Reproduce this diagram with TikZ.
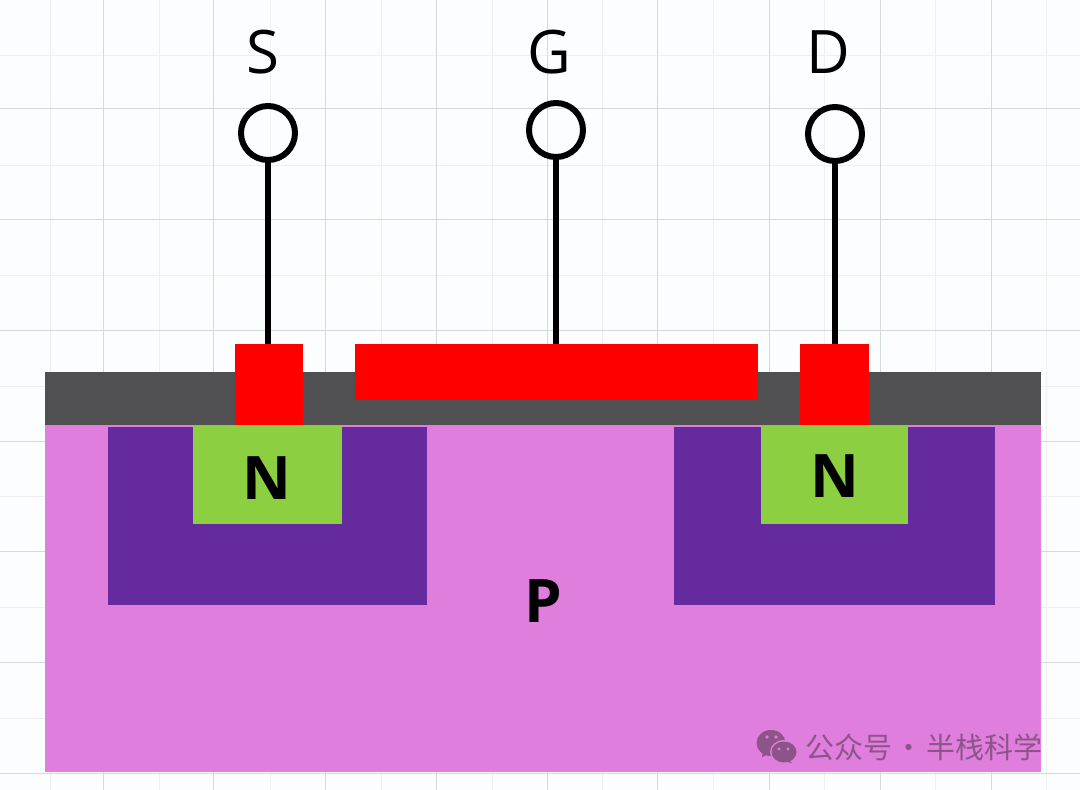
\documentclass[tikz,border=0pt]{standalone}
\usepackage{fontspec}
\setmainfont{Open Sans}
\newfontfamily\cjk{Noto Sans CJK SC}
\usetikzlibrary{positioning, calc}
\usepackage{xcolor}
\definecolor{mosbg}{HTML}{FBFDFE}
\definecolor{mosgrid}{HTML}{D3DADE}
\definecolor{mosgridlight}{HTML}{EDF1F4}
\definecolor{mossub}{HTML}{E07EDD}
\definecolor{mosoxide}{HTML}{505052}
\definecolor{moswell}{HTML}{652A9E}
\definecolor{mosn}{HTML}{8CCF41}
\definecolor{mosmetal}{HTML}{FE0000}
\definecolor{moswater}{HTML}{8C5489}
\tikzset{
  layer/.style={rectangle, inner sep=0pt, outer sep=0pt, draw=none},
  terminal/.style={circle, draw=black, line width=6pt, fill=none, inner sep=0pt, outer sep=0pt, minimum size=54pt},
  wire/.style={draw=black, line width=6.5pt},
  pinlabel/.style={font=\fontsize{60}{60}\selectfont, text=black},
  dopelabel/.style={font=\fontsize{60}{60}\selectfont\bfseries, text=black},
}
\begin{document}
\begin{tikzpicture}[x=1pt,y=-1pt]
    \useasboundingbox (0,0) rectangle (1080,790);
    \fill[mosbg] (0,0) rectangle (1080,790);
    % grid
    \foreach \x in {50,159,270,381,492,602,713,824,935,1046} \draw[mosgridlight, line width=1pt] (\x,0) -- (\x,790);
    \foreach \y in {55,165,275,386,496,607,718} \draw[mosgridlight, line width=1pt] (0,\y) -- (1080,\y);
    \foreach \x in {103,213,325,436,547,657,769,880,991} \draw[mosgrid, line width=1pt] (\x,0) -- (\x,790);
    \foreach \y in {108,219,330,441,551,662,773} \draw[mosgrid, line width=1pt] (0,\y) -- (1080,\y);
    % layers
    \node[layer, fill=mossub, minimum width=996pt, minimum height=347pt] (substrate) at (543,598.5) {};
    \node[layer, fill=mosoxide, minimum width=996pt, minimum height=53pt] (oxide) at (543,398.5) {};
    \node[layer, fill=moswell, minimum width=319pt, minimum height=178pt] (wellS) at (267.5,516) {};
    \node[layer, fill=moswell, minimum width=321pt, minimum height=178pt] (wellD) at (834.5,516) {};
    \node[layer, fill=mosn, minimum width=149pt, minimum height=98pt] (nS) at (267.5,475) {};
    \node[layer, fill=mosn, minimum width=147pt, minimum height=98pt] (nD) at (834.5,475) {};
    \node[layer, fill=mosmetal, minimum width=68pt, minimum height=81pt] (metalS) at (269,384.5) {};
    \node[layer, fill=mosmetal, minimum width=403pt, minimum height=56pt] (metalG) at (556.5,372) {};
    \node[layer, fill=mosmetal, minimum width=69pt, minimum height=81pt] (metalD) at (834.5,384.5) {};
    % terminals
    \node[terminal] (termS) at (268,133) {};
    \node[terminal] (termG) at (556,130) {};
    \node[terminal] (termD) at (835,134) {};
    \draw[wire] (termS.south) -- (termS.south |- metalS.north);
    \draw[wire] (termG.south) -- (termG.south |- metalG.north);
    \draw[wire] (termD.south) -- (termD.south |- metalD.north);
    % labels
    \node[pinlabel] (labelS) at (263,52) {S};
    \node[pinlabel] (labelG) at (549,52) {G};
    \node[pinlabel] (labelD) at (828,52) {D};
    \node[dopelabel] (labelNS) at (267,478) {N};
    \node[dopelabel] (labelND) at (835,476) {N};
    \node[dopelabel] (labelP) at (543,601) {P};
    % watermark
    \fill[moswater] (771,743) ellipse (14.5pt and 13pt);
    \fill[moswater] (763,751) -- (762,757) -- (771,753) -- cycle;
    \fill[mossub] (784,752) ellipse (14pt and 12pt);
    \fill[moswater] (784,752) ellipse (12.5pt and 10.5pt);
    \fill[moswater] (788,759) -- (792,763) -- (782,761) -- cycle;
    \fill[mossub] (767,737) circle (1.9pt) (776,737) circle (1.9pt);
    \fill[mossub] (779,749) circle (1.6pt) (788,749) circle (1.6pt);
    \node[font=\cjk\fontsize{29}{29}\selectfont, text=moswater, anchor=west, inner sep=0pt] (watermark) at (805,747) {公众号\hspace{2.5pt}·\hspace{2.5pt}半栈科学};
\end{tikzpicture}
\end{document}
